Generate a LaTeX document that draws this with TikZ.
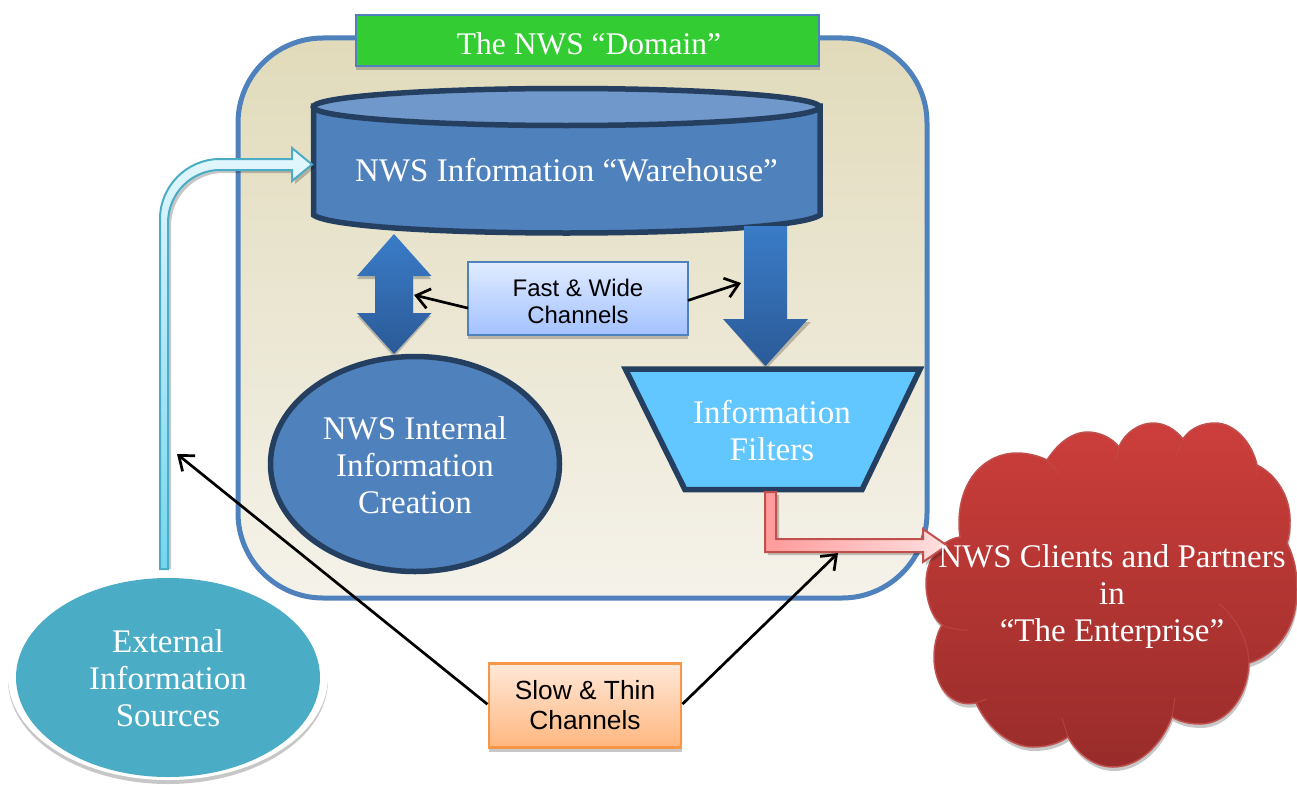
\documentclass[tikz,border=0pt]{standalone}
\usepackage{fontspec}
\setmainfont{Liberation Serif}
\setsansfont{Liberation Sans}
\usetikzlibrary{arrows.meta}
\definecolor{blueln}{HTML}{4F81BD}
\definecolor{darkln}{HTML}{243F60}
\definecolor{arrtop}{HTML}{3A7CC8}
\definecolor{arrbot}{HTML}{2B5A97}
\definecolor{paneltop}{HTML}{E1DBBB}
\definecolor{panelbot}{HTML}{F5F2EA}
\definecolor{titlegreen}{HTML}{33CC33}
\definecolor{cyltop}{HTML}{7098CB}
\definecolor{filterblue}{HTML}{62C6FF}
\definecolor{fasttop}{HTML}{E0EBFF}
\definecolor{fastbot}{HTML}{A3C2FF}
\definecolor{cyantop}{HTML}{E4F7FE}
\definecolor{cyanbot}{HTML}{74D6EF}
\definecolor{cyanln}{HTML}{4BACC6}
\definecolor{cloudtop}{HTML}{CC3E3B}
\definecolor{cloudbot}{HTML}{982C2A}
\definecolor{cloudln}{HTML}{C0504D}
\definecolor{redleft}{HTML}{FF9A9A}
\definecolor{redright}{HTML}{FFE0E0}
\definecolor{slowtop}{HTML}{FFE8D8}
\definecolor{slowbot}{HTML}{FFB77F}
\definecolor{orangeln}{HTML}{F79646}
\tikzset{
  shadowfill/.style={fill=black,fill opacity=0.22,draw=none},
  darkshape/.style={draw=darkln,line width=5.5pt,line join=miter},
  whitetext/.style={text=white,align=center,font=\fontsize{33}{37}\selectfont,inner sep=0pt},
  sanstext/.style={text=black,align=center,font=\sffamily\fontsize{24}{27}\selectfont,inner sep=0pt,outer sep=0pt},
  callout/.style={draw=black,line width=2.7pt,-{Straight Barb[length=13pt,width=20pt,line width=2.7pt]}},
  bluearrow/.style={top color=arrtop,bottom color=arrbot,draw=none}
}
\def\cloudpath{(1047,460) .. controls (1060,440) and (1075,432) .. (1087,432)
 .. controls (1100,432) and (1112,438) .. (1119,447)
 .. controls (1125,432) and (1140,423) .. (1153,423)
 .. controls (1165,423) and (1176,430) .. (1183,439)
 .. controls (1190,428) and (1203,423) .. (1215,423)
 .. controls (1235,423) and (1252,443) .. (1257,465)
 .. controls (1277,475) and (1290,497) .. (1290,520)
 .. controls (1290,530) and (1289,537) .. (1287,543)
 .. controls (1294,557) and (1297,570) .. (1297,590)
 .. controls (1297,630) and (1275,655) .. (1249,663)
 .. controls (1248,695) and (1228,724) .. (1200,724)
 .. controls (1190,724) and (1180,722) .. (1172,717)
 .. controls (1160,748) and (1137,767) .. (1113,767)
 .. controls (1095,767) and (1078,755) .. (1068,737)
 .. controls (1058,744) and (1046,747) .. (1033,747)
 .. controls (1010,747) and (988,728) .. (976,703)
 .. controls (950,708) and (934,685) .. (934,657)
 .. controls (934,645) and (937,633) .. (942,625)
 .. controls (932,618) and (926,600) .. (926,583)
 .. controls (926,560) and (940,540) .. (960,537)
 .. controls (959,530) and (959,527) .. (959,523)
 .. controls (959,480) and (985,453) .. (1017,453)
 .. controls (1028,453) and (1039,456) .. (1047,460) -- cycle}
\begin{document}
\begin{tikzpicture}[x=1pt,y=-1pt]
\useasboundingbox[fill=white] (0,0) rectangle (1297,784);
% panel
\path[top color=paneltop,bottom color=panelbot,draw=blueln,line width=5pt,rounded corners=85pt]
  (238,38) rectangle (927,598);
% title
\fill[shadowfill] (356,18) rectangle (820,70);
\node[minimum width=463pt,minimum height=51pt,fill=titlegreen,draw=blueln,line width=2pt,inner sep=0pt] (title) at (587.5,40.5) {};
\node[whitetext,font=\fontsize{31.5}{37}\selectfont] (titletext) at (589,44) {The NWS “Domain”};
% cylinder
\path[darkshape,fill=blueln]
  (313.5,106) -- (313.5,215) .. controls (330,227) and (450,233) .. (566.5,233)
  .. controls (683,233) and (803,227) .. (820,215) -- (820,106) -- cycle;
\path[darkshape,fill=cyltop] (566.5,107) ellipse [x radius=253pt,y radius=18.5pt];
\node[whitetext] (warehouse) at (566.5,170) {NWS Information “Warehouse”};
% double arrow shadow & shape
\fill[shadowfill] (394,237) -- (431,279) -- (413,279) -- (413,316) -- (431,316) -- (394,357) -- (357,316) -- (375,316) -- (375,279) -- (357,279) -- cycle;
\path[bluearrow] (394,234) -- (431.5,276) -- (413,276) -- (413,313) -- (431.5,313) -- (394,354) -- (357,313) -- (375,313) -- (375,276) -- (357,276) -- cycle;
% internal ellipse
\path[darkshape,fill=blueln] (415,464) ellipse [x radius=144.5pt,y radius=107.5pt];
\node[whitetext] (internal) at (415,465.5) {NWS Internal\\Information\\Creation};
% down arrow
\fill[shadowfill] (726,322) -- (811,322) -- (766,369) -- cycle;
\path[bluearrow] (744,226) -- (787,226) -- (787,319) -- (808,319) -- (765.5,366) -- (723,319) -- (744,319) -- cycle;
% filters
\path[darkshape,fill=filterblue] (625.5,369.2) -- (920,369.2) -- (862,489.7) -- (685,489.7) -- cycle;
\node[whitetext] (filters) at (772,431) {Information\\Filters};
% fast box
\fill[shadowfill] (468,266) rectangle (688,338.5);
\node[minimum width=220pt,minimum height=72.5pt,top color=fasttop,bottom color=fastbot,draw=blueln,line width=2pt,inner sep=0pt,outer sep=0pt] (fast) at (578,298.5) {};
\node[sanstext] (fasttext) at (578,301) {Fast \& Wide\\Channels};
\coordinate (fastL) at (414,295);
\coordinate (fastR) at (741,283);
\draw[callout] (fast.185) -- (fastL);
\draw[callout] (fast.-1) -- (fastR);
% cyan arrow
\fill[shadowfill] (163,569) -- (163,222) .. controls (163,189) and (190,162) .. (223,162) -- (295,162) -- (295,151) -- (315,167.5) -- (295,184) -- (295,173) -- (223,173) .. controls (195,173) and (171,196) .. (171,226) -- (171,569) -- cycle;
\path[top color=cyantop,bottom color=cyanbot,draw=cyanln,line width=2pt,line join=miter]
  (160,569) -- (160,219) .. controls (160,186) and (187,159) .. (220,159) -- (292,159) -- (292,148) -- (312,164.5) -- (292,181) -- (292,170) -- (220,170) .. controls (192,170) and (168,193) .. (168,223) -- (168,569) -- cycle;
% external
\fill[black!22] (168,680) ellipse [x radius=160pt,y radius=104pt];
\fill[white] (168,677) ellipse [x radius=160pt,y radius=103pt];
\fill[cyanln] (168,677.5) ellipse [x radius=152pt,y radius=99.5pt];
\node[whitetext] (external) at (168,678.5) {External\\Information\\Sources};
% cloud
\begin{scope}[shift={(1,4)}]
\fill[shadowfill] \cloudpath;
\end{scope}
\path[top color=cloudtop,bottom color=cloudbot,draw=cloudln,line width=1.5pt] \cloudpath;
\draw[cloudln,line width=1pt,opacity=0.6] (1047,460) -- (1059,474)
  (1119,447) -- (1116,460) (1183,439) -- (1176,455) (1257,465) -- (1257,476)
  (1219,604) .. controls (1237,618) and (1248,640) .. (1249,663)
  (942,625) .. controls (950,629) and (960,630) .. (968,630)
  (976,703) -- (987,699) (1068,737) -- (1062,718) (1172,717) -- (1175,697);
% red arrow
\fill[shadowfill] (768,495) -- (768,555) -- (926,555) -- (926,565) -- (950,549) -- (926,532) -- (926,542) -- (779,542) -- (779,495) -- cycle;
\path[left color=redleft,right color=redright,draw=cloudln,line width=2pt,line join=miter]
  (765,492) -- (765,552) -- (923,552) -- (923,562) -- (947,545.5) -- (923,529) -- (923,539) -- (776,539) -- (776,492) -- cycle;
\node[whitetext] (clients) at (1112,596.5) {NWS Clients and Partners\\in\\“The Enterprise”};
% slow box
\fill[shadowfill] (489,668) rectangle (682,752);
\node[minimum width=192pt,minimum height=84pt,top color=slowtop,bottom color=slowbot,draw=orangeln,line width=2.5pt,inner sep=0pt,outer sep=0pt] (slow) at (585,705.5) {};
\node[sanstext,font=\sffamily\fontsize{26.3}{30}\selectfont] (slowtext) at (585,705) {Slow \& Thin\\Channels};
\coordinate (slowL) at (177,454);
\coordinate (slowR) at (838,553);
\draw[callout,shorten <=2pt] (slow.west) -- (slowL);
\draw[callout,shorten <=2pt] (slow.east) -- (slowR);
\end{tikzpicture}
\end{document}
